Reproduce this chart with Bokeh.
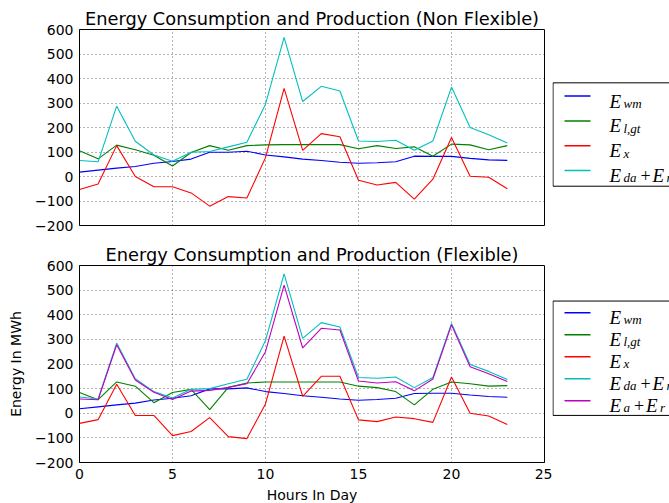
from bokeh.plotting import figure
from bokeh.models import Range1d, FixedTicker, ColumnDataSource
from bokeh.layouts import row, column
from bokeh.embed import file_html
from bokeh.resources import INLINE
from bokeh.core.properties import value

hours = list(range(24))
x_ticks = [0, 5, 10, 15, 20, 25]
y_ticks = [-200, -100, 0, 100, 200, 300, 400, 500, 600]
y_tick_labels = ["\u2212200", "\u2212100", "0", "100", "200", "300", "400", "500", "600"]

title_top = "Energy Consumption and Production (Non Flexible)"
title_bottom = "Energy Consumption and Production (Flexible)"
x_label = "Hours In Day"
y_label = "Energy In MWh"

# Non flexible
nf_wm = [18, 26, 34, 41, 54, 61, 71, 99, 99, 103, 88, 80, 71, 65, 58, 54, 56, 60, 83, 82, 82, 74, 68, 66]
nf_lgt = [105, 72, 128, 109, 87, 43, 98, 126, 107, 126, 129, 130, 130, 130, 130, 113, 126, 114, 121, 83, 132, 129, 109, 126]
nf_x = [-53, -31, 126, 0, -42, -42, -67, -121, -82, -88, 77, 360, 107, 175, 162, -15, -35, -24, -92, -11, 159, 1, -3, -50]
nf_dar = [65, 60, 287, 144, 88, 62, 99, 102, 121, 140, 295, 568, 306, 368, 349, 145, 143, 148, 107, 145, 365, 200, 170, 137]

# Flexible
fl_wm = [18, 26, 34, 41, 54, 61, 71, 99, 99, 103, 88, 80, 71, 65, 58, 53, 56, 61, 80, 81, 81, 74, 68, 65]
fl_lgt = [84, 55, 127, 110, 43, 84, 97, 15, 105, 123, 127, 127, 127, 127, 127, 110, 104, 88, 34, 97, 127, 120, 110, 112]
fl_x = [-41, -26, 118, -9, -9, -91, -74, -18, -95, -103, 38, 313, 69, 150, 150, -27, -34, -15, -22, -37, 147, 0, -11, -46]
fl_dar = [66, 58, 285, 140, 88, 62, 97, 100, 120, 138, 295, 566, 304, 368, 350, 145, 142, 147, 104, 145, 365, 198, 170, 137]
fl_ar = [58, 55, 278, 135, 85, 56, 90, 93, 105, 120, 250, 520, 265, 345, 338, 131, 123, 128, 91, 139, 359, 189, 160, 129]

C_BLUE, C_GREEN, C_RED, C_CYAN, C_MAG = "#0000ff", "#008000", "#ff0000", "#00bfbf", "#bf00bf"

top_series = [(nf_wm, C_BLUE), (nf_lgt, C_GREEN), (nf_x, C_RED), (nf_dar, C_CYAN)]
bot_series = [(fl_wm, C_BLUE), (fl_lgt, C_GREEN), (fl_x, C_RED), (fl_dar, C_CYAN), (fl_ar, C_MAG)]

top_legend = [(C_BLUE, "wm", None), (C_GREEN, "l,gt", None), (C_RED, "x", None), (C_CYAN, "da", "r")]
bot_legend = top_legend + [(C_MAG, "a", "r")]

FONT = "DejaVu Sans"
MFONT = "Liberation Serif"


def main_fig(title, series, frame_h, top, bottom, show_x, ylabel=None):
    p = figure(frame_width=465, frame_height=frame_h,
               min_border_left=79, min_border_right=8,
               min_border_top=top, min_border_bottom=bottom,
               x_range=Range1d(0, 25), y_range=Range1d(-200, 600),
               toolbar_location=None, output_backend="svg", title=title)
    p.title.text_font = FONT
    p.title.text_font_size = "17.8px"
    p.title.text_font_style = "normal"
    p.title.text_color = "#000000"
    p.title.align = "center"
    p.title.standoff = 2
    p.outline_line_color = "#000000"
    p.outline_line_width = 1
    p.outline_line_alpha = 1
    p.background_fill_color = "white"
    p.border_fill_color = "white"

    p.xaxis.ticker = FixedTicker(ticks=x_ticks)
    p.yaxis.ticker = FixedTicker(ticks=y_ticks)
    p.xgrid.ticker = FixedTicker(ticks=x_ticks)
    p.ygrid.ticker = FixedTicker(ticks=y_ticks)
    p.yaxis.major_label_overrides = {t: s for t, s in zip(y_ticks, y_tick_labels)}
    for ax in (p.xaxis, p.yaxis):
        ax.major_tick_line_color = None
        ax.minor_tick_line_color = None
        ax.axis_line_color = "#000000"
        ax.major_label_text_font = FONT
        ax.major_label_text_font_size = "14px"
        ax.major_label_text_color = "#000000"
        ax.axis_label_text_font = FONT
        ax.axis_label_text_font_size = "14px"
        ax.axis_label_text_font_style = "normal"
        ax.axis_label_text_color = "#000000"
        ax.major_tick_out = 0
        ax.major_tick_in = 0
    p.yaxis.major_label_standoff = 6
    p.xaxis.major_label_standoff = 6
    if show_x:
        p.xaxis.axis_label = x_label
        p.xaxis.axis_label_standoff = 5
    else:
        p.xaxis.visible = False
    if ylabel:
        p.yaxis.axis_label = ylabel
        p.yaxis.axis_label_standoff = 8

    for g in (p.xgrid, p.ygrid):
        g.grid_line_color = "#000000"
        g.grid_line_alpha = 0.6
        g.grid_line_dash = "1 3"
        g.grid_line_width = 1

    for vals, col in series:
        p.line(hours, vals, line_color=col, line_width=1.1)
    return p


def legend_fig(height, frame_center, entries):
    W = 117
    p = figure(width=W, height=height, x_range=Range1d(0, W), y_range=Range1d(height, 0),
               min_border=0, toolbar_location=None, output_backend="svg",
               x_axis_location=None, y_axis_location=None)
    p.grid.visible = False
    p.outline_line_color = None
    p.background_fill_color = "white"
    p.border_fill_color = "white"
    n = len(entries)
    box_h = 31 * n + 1
    btop = frame_center - box_h / 2
    p.quad(left=[0.5], right=[500], top=[btop], bottom=[btop + box_h],
           fill_color="white", line_color="#000000", line_width=1)
    ys = [btop + 16 + 30 * i for i in range(n)]
    for (col, s1, s2), y in zip(entries, ys):
        p.line([12, 38], [y, y], line_color=col, line_width=1.5)
    ex0, sx0 = 57, 71
    eb = [y + 6 for y in ys]
    sb = [y + 9 for y in ys]
    src_e = ColumnDataSource(dict(x=[ex0] * n, y=eb, t=["E"] * n))
    src_s = ColumnDataSource(dict(x=[sx0] * n, y=sb, t=[e[1] for e in entries]))
    p.text("x", "y", "t", source=src_e, text_font=value(MFONT), text_font_style="italic",
           text_font_size="19px", text_baseline="alphabetic", text_color="#000000")
    p.text("x", "y", "t", source=src_s, text_font=value(MFONT), text_font_style="italic",
           text_font_size="13px", text_baseline="alphabetic", text_color="#000000")
    px, py, ex, ey, rx, ry, rt = [], [], [], [], [], [], []
    for (col, s1, s2), y in zip(entries, ys):
        if s2:
            plus_x = sx0 + 6.5 * len(s1) + 4
            px.append(plus_x); py.append(y + 6)
            ex.append(plus_x + 12); ey.append(y + 6)
            rx.append(plus_x + 12 + 14); ry.append(y + 9); rt.append(s2)
    if px:
        p.text(px, py, ["+"] * len(px), text_font=value(MFONT), text_font_size="18px",
               text_baseline="alphabetic", text_color="#000000")
        p.text(ex, ey, ["E"] * len(ex), text_font=value(MFONT), text_font_style="italic",
               text_font_size="19px", text_baseline="alphabetic", text_color="#000000")
        p.text(rx, ry, rt, text_font=value(MFONT), text_font_style="italic",
               text_font_size="13px", text_baseline="alphabetic", text_color="#000000")
    return p


p1 = main_fig(title_top, top_series, 196, 29, 12, False)
p2 = main_fig(title_bottom, bot_series, 197, 28, 41, True, y_label)
l1 = legend_fig(237, 29 + 98, top_legend)
l2 = legend_fig(266, 28 + 98.5, bot_legend)

layout = column(row(p1, l1), row(p2, l2))
open("out.html", "w").write(file_html(layout, INLINE))
